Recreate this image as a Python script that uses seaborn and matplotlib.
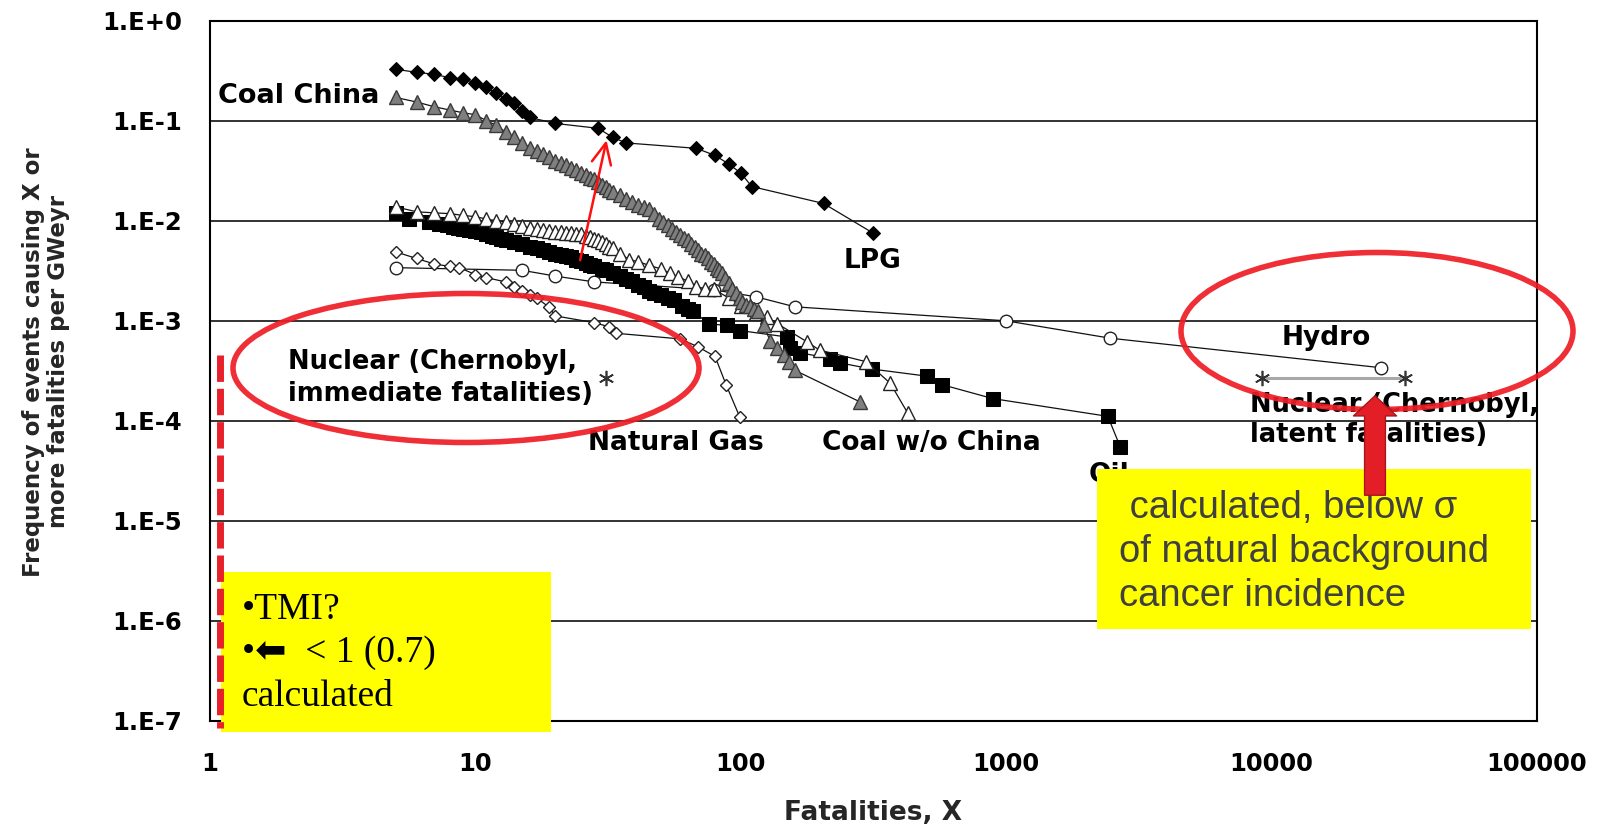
import numpy as np
import pandas as pd
import matplotlib
matplotlib.use("Agg")
import matplotlib.pyplot as plt
import seaborn as sns
from matplotlib.patches import Ellipse, Rectangle, FancyArrowPatch
from matplotlib.lines import Line2D
from matplotlib.ticker import LogLocator, FixedLocator, FixedFormatter, NullFormatter

# ---------------- data ----------------
lpg_x = [5, 6, 7, 8, 9, 10, 11, 12, 13, 14, 15, 16, 20, 29, 33, 37, 68, 80, 90, 100, 110, 205, 316]
lpg_y = [0.327, 0.305, 0.291, 0.269, 0.261, 0.240, 0.216, 0.188, 0.164, 0.149, 0.125, 0.108,
         0.094, 0.084, 0.068, 0.060, 0.053, 0.045, 0.037, 0.030, 0.022, 0.0149, 0.0075]

coal_china_x = [5, 6, 7, 8, 9, 10, 11, 12, 13, 14, 15, 16, 17, 18, 19, 20, 21, 22, 23, 24,
                25, 26, 27, 28, 29, 30, 31, 32, 33, 35, 37, 39, 41, 43, 45, 47, 49, 51, 53,
                55, 57, 59, 61, 63, 65, 67, 69, 71, 73, 75, 77, 79, 81, 83, 85, 87, 90, 93, 96,
                99, 101, 105, 108, 112, 116, 122, 129, 137, 145, 152, 160, 281]
coal_china_y = [0.171, 0.154, 0.138, 0.128, 0.120, 0.115, 0.100, 0.090, 0.077, 0.068,
                0.060, 0.054, 0.050, 0.046, 0.043, 0.040, 0.038, 0.036, 0.034, 0.032,
                0.030, 0.0285, 0.027, 0.026, 0.0245, 0.023, 0.022, 0.0205, 0.0195,
                0.018, 0.0165, 0.0153, 0.0145, 0.0138, 0.0131, 0.0118, 0.0105, 0.0097, 0.0090,
                0.0083, 0.0077, 0.0072, 0.0068, 0.0064, 0.0059, 0.0055, 0.0051, 0.0047, 0.0045,
                0.0042, 0.0039, 0.0037, 0.0034, 0.0032, 0.0030, 0.0027, 0.0024, 0.0021, 0.0019,
                0.0017, 0.00155, 0.00145, 0.0014, 0.0013, 0.00125, 0.0009, 0.00063, 0.00054,
                0.00046, 0.00039, 0.00032, 0.000155]

coal_wo_china_x = [5, 6, 7, 8, 9, 10, 11, 12, 13, 14, 15, 16, 17, 18, 19, 20, 21, 22, 23, 24,
                   25, 26, 27, 28, 29, 30, 31, 32, 33, 35, 38, 41, 45, 50, 54, 58, 63, 68, 73,
                   79, 90, 100, 114, 125, 137, 177, 198, 297, 366, 426]
coal_wo_china_y = [0.0138, 0.0123, 0.0120, 0.0118, 0.0113, 0.0110, 0.0104, 0.0100, 0.0097, 0.0092,
                   0.0088, 0.0085, 0.0082, 0.0080, 0.0079, 0.0078, 0.0077, 0.0076, 0.0075, 0.0074,
                   0.0074, 0.0071, 0.0069, 0.0066, 0.0064, 0.0061, 0.0058, 0.0055, 0.0053,
                   0.0047, 0.0041, 0.0039, 0.0036, 0.0033, 0.0030, 0.00275, 0.0025, 0.0022, 0.0021,
                   0.00206, 0.0017, 0.0014, 0.00119, 0.0011, 0.00094, 0.00062, 0.00051, 0.00039,
                   0.000237, 0.000119]

oil_x = [5, 5.6, 6.7, 7.3, 7.8, 8.2, 8.6, 9, 9.5, 10, 10.5, 11, 11.5, 12, 12.5, 13, 14, 15, 16,
         17, 18, 19, 20, 21, 22, 23, 24, 25, 26, 27, 28, 30, 31, 33, 35, 37, 39, 41, 43, 45,
         47, 50, 53, 56, 60, 63, 66, 76, 89, 99, 149, 153, 167, 217, 236, 311, 502, 574, 890,
         2415, 2690]
oil_y = [0.0119, 0.0104, 0.0098, 0.0093, 0.0090, 0.0087, 0.0085, 0.0083, 0.0081, 0.0079,
         0.0077, 0.0074, 0.0071, 0.0069, 0.0066, 0.0064, 0.0061, 0.0058, 0.0055, 0.0053,
         0.0051, 0.0049, 0.0047, 0.0046, 0.0044, 0.0043, 0.0041, 0.0040, 0.0038, 0.0036,
         0.0035, 0.0033, 0.0032, 0.0030, 0.0028, 0.0026, 0.0025, 0.0023, 0.0022, 0.0020,
         0.0019, 0.0018, 0.0017, 0.0016, 0.0014, 0.0013, 0.00125, 0.00093, 0.00090, 0.00080,
         0.00069, 0.00054, 0.00048, 0.00042, 0.00038, 0.00033, 0.00028, 0.00023, 0.000167,
         0.000111, 0.000055]

gas_x = [5, 6, 7, 8, 8.7, 10, 11, 13, 14, 15, 16, 17, 19, 20, 28, 32, 34, 59, 69, 80, 88, 99]
gas_y = [0.0049, 0.0042, 0.0037, 0.0035, 0.0034, 0.0029, 0.0027, 0.00245, 0.0022, 0.0020, 0.0018,
         0.0017, 0.00136, 0.00112, 0.00096, 0.00087, 0.00075, 0.00066, 0.00055, 0.00044, 0.00023,
         0.00011]

hydro_x = [5, 15, 20, 28, 79, 114, 160, 1000, 2470, 25800]
hydro_y = [0.0034, 0.0032, 0.0028, 0.00245, 0.00204, 0.00174, 0.00138, 0.0010, 0.00067, 0.00034]

chernobyl_immediate_x = [31]
chernobyl_immediate_y = [0.00027]
chernobyl_latent_x = [9200, 31800]
chernobyl_latent_y = [0.00027, 0.00027]

x_ticks = [1, 10, 100, 1000, 10000, 100000]
x_tick_labels = ["1", "10", "100", "1000", "10000", "100000"]
y_ticks = [1e-7, 1e-6, 1e-5, 1e-4, 1e-3, 1e-2, 1e-1, 1e0]
y_tick_labels = ["1.E-7", "1.E-6", "1.E-5", "1.E-4", "1.E-3", "1.E-2", "1.E-1", "1.E+0"]

# ---------------- figure ----------------
sns.set_theme(style="white")
plt.rcParams["font.family"] = ["DejaVu Sans"]
plt.rcParams["lines.scale_dashes"] = False

W, H = 1604, 824
fig = plt.figure(figsize=(W / 100, H / 100), dpi=100, facecolor="white")
L, R, T, B = 210, 1537, 20.7, 721
ax = fig.add_axes([L / W, 1 - B / H, (R - L) / W, (B - T) / H])
ax.set_facecolor("white")


def fx(px):
    return px / W


def fy(py):
    return 1 - py / H


line_kw = dict(color="#111111", linewidth=0.9, estimator=None, sort=False, ax=ax, legend=False)

sns.lineplot(x=hydro_x, y=hydro_y, marker="o", markersize=9, markerfacecolor="white",
             markeredgecolor="#222222", markeredgewidth=1.0, zorder=3, **line_kw)
sns.lineplot(x=gas_x, y=gas_y, marker="D", markersize=6.5, markerfacecolor="white",
             markeredgecolor="#222222", markeredgewidth=1.0, zorder=3, **line_kw)
sns.lineplot(x=oil_x, y=oil_y, marker="s", markersize=10, markerfacecolor="black",
             markeredgecolor="black", zorder=4, **line_kw)
sns.lineplot(x=coal_wo_china_x, y=coal_wo_china_y, marker="^", markersize=10,
             markerfacecolor="white", markeredgecolor="#222222", markeredgewidth=1.0,
             zorder=4, **line_kw)
sns.lineplot(x=coal_china_x, y=coal_china_y, marker="^", markersize=10,
             markerfacecolor="#7f7f7f", markeredgecolor="#3a3a3a", markeredgewidth=1.0,
             zorder=5, **line_kw)
sns.lineplot(x=lpg_x, y=lpg_y, marker="D", markersize=7, markerfacecolor="black",
             markeredgecolor="black", zorder=5, **line_kw)

# Chernobyl
sns.lineplot(x=chernobyl_latent_x, y=chernobyl_latent_y, color="#a8a8a8", linewidth=2.2,
             marker=(6, 2, 0), markersize=11, markeredgecolor="#333333", markeredgewidth=1.2,
             estimator=None, sort=False, ax=ax, legend=False, zorder=5)
ax.plot(chernobyl_immediate_x, chernobyl_immediate_y, linestyle="none", marker=(6, 2, 0),
        markersize=11, markeredgecolor="#333333", markeredgewidth=1.2, zorder=5)

# ---------------- axes ----------------
ax.set_xscale("log")
ax.set_yscale("log")
ax.set_xlim(1, 1e5)
ax.set_ylim(1e-7, 1)
ax.xaxis.set_major_locator(FixedLocator(x_ticks))
ax.xaxis.set_major_formatter(FixedFormatter(x_tick_labels))
ax.yaxis.set_major_locator(FixedLocator(y_ticks))
ax.yaxis.set_major_formatter(FixedFormatter(y_tick_labels))
ax.xaxis.set_minor_locator(LogLocator(base=10, subs=np.arange(2, 10), numticks=20))
ax.yaxis.set_minor_locator(LogLocator(base=10, subs=np.arange(2, 10), numticks=20))
ax.xaxis.set_minor_formatter(NullFormatter())
ax.yaxis.set_minor_formatter(NullFormatter())
ax.tick_params(which="major", direction="in", length=7, width=1.0, color="black",
               labelsize=17.5, labelcolor="black")
ax.tick_params(which="minor", direction="in", length=4, width=0.9, color="black")
ax.tick_params(axis="y", which="major", pad=20)
ax.tick_params(axis="x", which="major", pad=22)
for lab in ax.get_xticklabels() + ax.get_yticklabels():
    lab.set_fontweight("bold")
ax.yaxis.grid(True, which="major", color="#222222", linewidth=1.3)
ax.xaxis.grid(False)
ax.set_axisbelow(True)
for s in ax.spines.values():
    s.set_visible(True)
    s.set_color("black")
    s.set_linewidth(1.5)

ax.set_xlabel("Fatalities, X", fontsize=19, fontweight="bold", va="center", ha="center")
ax.xaxis.set_label_coords((873 - L) / (R - L), (B - 813) / (B - T))
ax.set_ylabel("Frequency of events causing X or\nmore fatalities per GWeyr", fontsize=16.5,
              fontweight="bold", va="center", ha="center", linespacing=1.12)
ax.yaxis.set_label_coords((46 - L) / (R - L), (B - 362) / (B - T))

# ---------------- series labels ----------------
lab_kw = dict(fontweight="bold", color="black", zorder=6)
ax.text(1.07, 0.177, "Coal China", ha="left", va="center", fontsize=19.5, **lab_kw)
ax.text(315, 0.0040, "LPG", ha="center", va="center", fontsize=19, **lab_kw)
ax.text(1.97, 2.67e-4, "Nuclear (Chernobyl,\nimmediate fatalities)", ha="left", va="center",
        linespacing=1.3, fontsize=18.5, **lab_kw)
ax.text(57, 6.0e-5, "Natural Gas", ha="center", va="center", fontsize=19, **lab_kw)
ax.text(523, 6.0e-5, "Coal w/o China", ha="center", va="center", fontsize=19, **lab_kw)
ax.text(2440, 2.9e-5, "Oil", ha="center", va="center", fontsize=19, **lab_kw)
ax.text(16000, 6.7e-4, "Hydro", ha="center", va="center", fontsize=19, **lab_kw)
ax.text(8300, 1.02e-4, "Nuclear (Chernobyl,\nlatent fatalities)", ha="left", va="center",
        linespacing=1.2, fontsize=18.5, **lab_kw)

# thin red arrow
ax.annotate("", xy=(31.2, 0.064), xytext=(24.8, 0.00404),
            arrowprops=dict(arrowstyle="->,head_length=0.75,head_width=0.35", color="#ff1010",
                            lw=1.8, mutation_scale=20, shrinkA=0, shrinkB=0), zorder=8)

# ---------------- overlays (figure level) ----------------
red = "#ee1c25"
fig.add_artist(Ellipse((fx(466), fy(368)), 466 / W, 149 / H, transform=fig.transFigure,
                       fill=False, edgecolor=red, linewidth=4, alpha=0.92, zorder=10))
fig.add_artist(Ellipse((fx(1377), fy(331)), 392 / W, 157 / H, transform=fig.transFigure,
                       fill=False, edgecolor=red, linewidth=4, alpha=0.92, zorder=10))

fig.add_artist(Rectangle((fx(221), fy(732)), 330 / W, 160 / H, transform=fig.transFigure,
                         facecolor="#ffff00", edgecolor="none", zorder=9))
fig.add_artist(Rectangle((fx(1097), fy(629)), 434 / W, 160 / H, transform=fig.transFigure,
                         facecolor="#ffff00", edgecolor="none", zorder=9))

fig.add_artist(Line2D([fx(220), fx(220)], [fy(355), fy(728)], transform=fig.transFigure,
                      color="#e8202a", linewidth=5, dashes=(19, 5), zorder=11))

fig.text(fx(242), fy(653), "\u2022TMI?\n\u2022\u2b05  < 1 (0.7)\ncalculated",
         family=["Liberation Serif", "DejaVu Sans"], fontsize=27, color="black",
         ha="left", va="center", linespacing=1.33, zorder=12)
fig.text(fx(1119), fy(552), " calculated, below \u03c3\nof natural background\ncancer incidence",
         family=["Liberation Sans", "DejaVu Sans"], fontsize=27.5, color="#404040",
         ha="left", va="center", linespacing=1.3, zorder=12)

fig.add_artist(FancyArrowPatch((fx(1375), fy(498)), (fx(1375), fy(393)),
                               transform=fig.transFigure,
                               arrowstyle="simple,head_length=1.45,head_width=3.1,tail_width=1.5",
                               mutation_scale=10, facecolor="#e41e26", edgecolor="#a8141b",
                               linewidth=1.0, zorder=13))

fig.savefig("out.png", dpi=100, facecolor="white")
